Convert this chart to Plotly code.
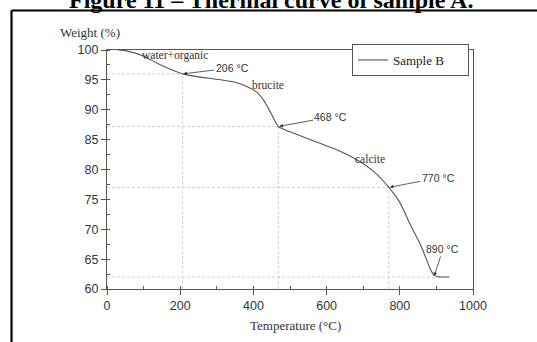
import plotly.graph_objects as go

# ---- data ----
temperature = [30, 50, 70, 95, 137, 180, 206, 250, 300, 350, 385, 410, 430, 450, 468,
               500, 560, 620, 680, 730, 770, 800, 830, 855, 870, 882, 892, 905, 935]
weight = [100.0, 99.9, 99.6, 99.1, 97.8, 96.6, 96.0, 95.5, 95.1, 94.6, 93.8, 92.9, 91.4, 89.2, 87.2,
          86.3, 84.9, 83.5, 81.7, 79.6, 77.0, 74.5, 70.6, 67.6, 65.4, 63.5, 62.4, 62.05, 62.0]

key_temps = [206, 468, 770, 893]
key_weights = [96.0, 87.2, 77.0, 62.0]
key_labels = ["206 °C", "468 °C", "770 °C", "890 °C"]
key_label_pos = [(342, 97.0), (612, 88.8), (905, 78.6), (918, 66.7)]
vertical_guides = [True, True, True, False]

stage_labels = ["water+organic", "brucite", "calcite"]
stage_pos = [(186, 99.0), (440, 94.1), (718, 81.8)]

x_ticks = [0, 200, 400, 600, 800, 1000]
y_ticks = [60, 65, 70, 75, 80, 85, 90, 95, 100]

SERIF = "Liberation Serif, Times New Roman, serif"
SANS = "Liberation Sans, Arial, sans-serif"
GUIDE = dict(color="#cfcfcf", width=1, dash="3px,2px")

fig = go.Figure()

# dashed guide lines
for t, w, vg in zip(key_temps, key_weights, vertical_guides):
    x_end = t if vg else temperature[-1]
    fig.add_trace(go.Scatter(x=[0, x_end], y=[w, w], mode="lines", line=GUIDE,
                             showlegend=False, hoverinfo="skip"))
    if vg:
        fig.add_trace(go.Scatter(x=[t, t], y=[60, w], mode="lines", line=GUIDE,
                                 showlegend=False, hoverinfo="skip"))

fig.add_trace(go.Scatter(x=temperature, y=weight, mode="lines", name="Sample B",
                         line=dict(color="#555555", width=1.1, shape="spline", smoothing=0.6)))

# key point labels with arrows
for (tx, ty), lab, t, w in zip(key_label_pos, key_labels, key_temps, key_weights):
    fig.add_annotation(x=t, y=w, ax=tx, ay=ty, xref="x", yref="y", axref="x", ayref="y",
                       text=lab, showarrow=True, arrowhead=2, arrowsize=0.9, arrowwidth=0.8,
                       arrowcolor="#333333", font=dict(family=SANS, size=10.5, color="#333333"),
                       standoff=1)

for (sx, sy), lab in zip(stage_pos, stage_labels):
    fig.add_annotation(x=sx, y=sy, xref="x", yref="y", text=lab, showarrow=False,
                       font=dict(family=SERIF, size=11.5, color="#333333"))

# axis titles
fig.add_annotation(x=-0.134, y=1.075, xref="paper", yref="paper", xanchor="left", yanchor="middle",
                   text="Weight (%)", showarrow=False, font=dict(family=SERIF, size=13, color="#333333"))
fig.add_annotation(x=0.514, y=-0.152, xref="paper", yref="paper", xanchor="center", yanchor="middle",
                   text="Temperature (°C)", showarrow=False, font=dict(family=SERIF, size=13, color="#333333"))

# page title (cropped at top, as in the source page) and outer frame
fig.add_annotation(x=0.448, y=(289 - 15) / 239, xref="paper", yref="paper", xanchor="center", yanchor="bottom",
                   text="<b>Figure 11 – Thermal curve of sample A.</b>", showarrow=False,
                   font=dict(family=SERIF, size=24, color="#000000"))
fig.add_shape(type="line", xref="paper", yref="paper", x0=(11.5 - 107) / 366, x1=1.25,
              y0=(289 - 10.5) / 239, y1=(289 - 10.5) / 239, line=dict(color="black", width=2.2))
fig.add_shape(type="line", xref="paper", yref="paper", x0=(11.5 - 107) / 366, x1=(11.5 - 107) / 366,
              y0=(289 - 10.5) / 239, y1=-0.3, line=dict(color="black", width=2.2))

axis_common = dict(showgrid=False, zeroline=False, showline=True, linecolor="#555555", linewidth=1.3,
                   mirror=True, ticks="outside", ticklen=5, tickwidth=1, tickcolor="#555555",
                   tickfont=dict(family=SANS, size=12.5, color="#333333"))

fig.update_xaxes(range=[0, 1000], tickvals=x_ticks,
                 minor=dict(ticks="inside", ticklen=3, dtick=100, tickcolor="#555555"), **axis_common)
fig.update_yaxes(range=[60, 100], tickvals=y_ticks,
                 minor=dict(ticks="inside", ticklen=3, dtick=2.5, tickcolor="#555555"), **axis_common)

fig.update_layout(
    width=537, height=342,
    margin=dict(l=107, r=64, t=50, b=53),
    paper_bgcolor="white", plot_bgcolor="white",
    showlegend=True,
    legend=dict(x=(352 - 107) / 366, y=(289 - 60) / 239, xanchor="left", yanchor="middle",
                orientation="h",
                bordercolor="#555555", borderwidth=1, bgcolor="white",
                font=dict(family=SERIF, size=13, color="#222222"),
                itemwidth=30, tracegroupgap=0, entrywidth=70, entrywidthmode="pixels"),
)

fig.write_html("out.html")
